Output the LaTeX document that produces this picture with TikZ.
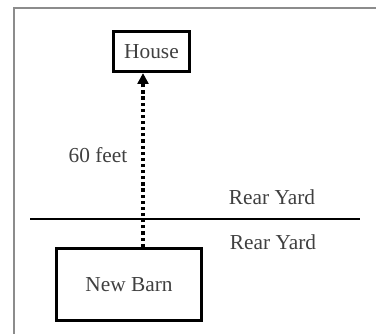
\documentclass[tikz,border=0pt]{standalone}
\usepackage{fontspec}
\setmainfont{Liberation Serif}
\usetikzlibrary{arrows.meta}
\tikzset{
  bldg/.style={draw, line width=2.4pt, inner sep=0pt, font=\fontsize{16}{19}\selectfont, text=black!75},
  lbl/.style={font=\fontsize{16}{19}\selectfont, text=black!75, inner sep=0pt}
}
\begin{document}
\begin{tikzpicture}[x=0.75pt,y=-0.75pt]
  \useasboundingbox (0,0) rectangle (376,334);
  \begin{scope}
    \clip (0,0) rectangle (376,334);
    \draw[black!45, line width=1.5pt] (14,400) -- (14,8) -- (400,8);
  \end{scope}
  \node (house) at (151.5,51.5) [bldg, minimum width=57pt, minimum height=30pt] {House};
  \node (barn) at (129,284.5) [bldg, minimum width=109pt, minimum height=54pt] {New Barn};
  \coordinate (tail) at ([xshift=10.5pt]barn.north);
  \draw[line width=2.4pt, dash pattern=on 2.4pt off 2.2pt, -{Triangle[length=8pt,width=8pt]}]
    (tail) -- (tail |- house.south);
  \node (dist) at (98,155) [lbl] {60 feet};
  \coordinate (lineW) at (30,219); \coordinate (lineE) at (360,219);
  \draw[line width=1.2pt] (lineW) -- (lineE);
  \node (yardA) at (272,197) [lbl] {Rear Yard};
  \node (yardB) at (273,242) [lbl] {Rear Yard};
\end{tikzpicture}
\end{document}
